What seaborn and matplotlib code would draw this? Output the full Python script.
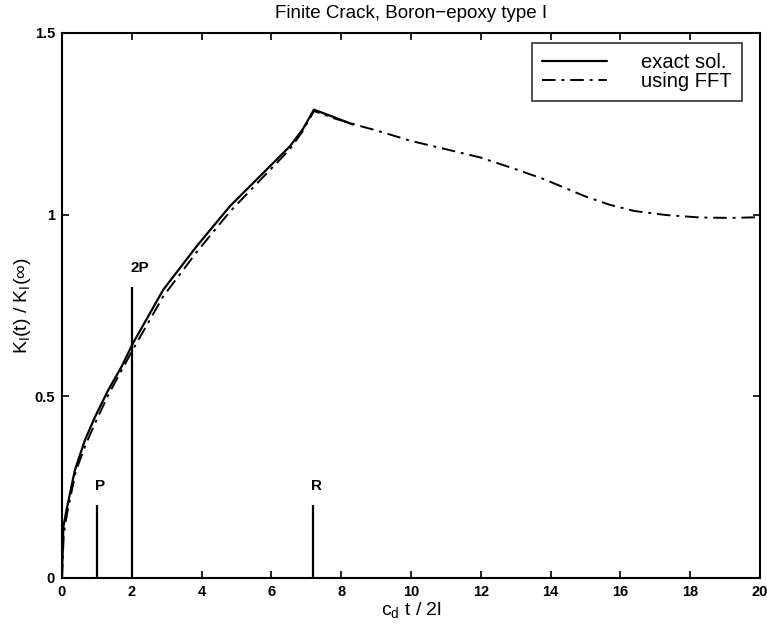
import matplotlib
matplotlib.use("Agg")
import matplotlib.pyplot as plt
import pandas as pd
import seaborn as sns

# exact solution
x_exact = [0, 0.04, 0.13, 0.37, 0.66, 0.95, 1.33, 1.71, 2.04, 2.9, 3.86,
           4.81, 5.77, 6.53, 6.9, 7.22, 7.8, 8.34]
y_exact = [0, 0.141, 0.187, 0.297, 0.380, 0.444, 0.518, 0.582, 0.647, 0.793,
           0.913, 1.023, 1.115, 1.188, 1.235, 1.289, 1.268, 1.248]

# FFT inversion
x_fft = [0, 0.05, 0.15, 0.4, 0.7, 1.0, 1.35, 1.7, 2.04, 2.9, 3.86, 4.81,
         5.77, 6.53, 6.9, 7.22, 7.8, 8.5, 9.0, 10.0, 11.0, 12.0, 13.0, 13.8,
         14.5, 15.0, 15.7, 16.4, 17.3, 18.3, 19.2, 20.0]
y_fft = [0, 0.12, 0.18, 0.295, 0.372, 0.437, 0.508, 0.570, 0.630, 0.775,
         0.897, 1.008, 1.104, 1.180, 1.230, 1.285, 1.265, 1.245, 1.232, 1.203,
         1.18, 1.157, 1.125, 1.098, 1.07, 1.050, 1.027, 1.010, 0.999, 0.992,
         0.991, 0.993]

# wave arrival markers
marker_x = [1, 2, 7.2]
marker_h = [0.2, 0.8, 0.2]
marker_labels = ["P", "2P", "R"]

sns.set_style("ticks")
plt.rcParams["font.family"] = ["Liberation Sans", "DejaVu Sans"]
plt.rcParams["mathtext.fontset"] = "custom"
plt.rcParams["mathtext.rm"] = "Liberation Sans"
plt.rcParams["mathtext.it"] = "Liberation Sans"
plt.rcParams["mathtext.bf"] = "Liberation Sans:bold"
for key in ["text.color", "axes.labelcolor", "xtick.color", "ytick.color"]:
    plt.rcParams[key] = "black"

fig = plt.figure(figsize=(7.67, 6.29), dpi=100)
ax = fig.add_axes([0.0808, 0.0811, 0.910, 0.8665])

df_exact = pd.DataFrame({"x": x_exact, "y": y_exact})
df_fft = pd.DataFrame({"x": x_fft, "y": y_fft})

sns.lineplot(data=df_exact, x="x", y="y", ax=ax, color="black", lw=1.6,
             label="exact sol.", sort=False)
sns.lineplot(data=df_fft, x="x", y="y", ax=ax, color="black", lw=1.4,
             label="using FFT", sort=False)
ax.lines[1].set_dashes([7, 3, 1.5, 3])

ax.vlines(marker_x, 0, marker_h, color="black", lw=1.6)
for mx, mh, lab in zip(marker_x, marker_h, marker_labels):
    ax.text(mx - 0.05, mh + 0.035, lab, ha="left", va="bottom",
            fontsize=11, fontweight="bold")

ax.set_xlim(0, 20)
ax.set_ylim(0, 1.5)
ax.set_xticks(range(0, 21, 2))
ax.set_yticks([0, 0.5, 1, 1.5])
ax.set_yticklabels(["0", "0.5", "1", "1.5"])
ax.tick_params(direction="in", length=5, width=1.2, top=True, right=True,
               labelsize=10.5, pad=5)
for lab in ax.get_xticklabels() + ax.get_yticklabels():
    lab.set_fontweight("bold")
for sp in ax.spines.values():
    sp.set_linewidth(1.5)
    sp.set_color("black")

ax.set_title("Finite Crack, Boron\u2212epoxy type I", fontsize=13.5, pad=11)
ax.set_xlabel("$c_d$ t / 2l", fontsize=14, labelpad=0.5)
ax.set_ylabel("$K_I$(t) / $K_I$(\u221e)", fontsize=14, labelpad=1)

leg = ax.legend(loc="upper right", bbox_to_anchor=(0.974, 0.982),
                fontsize=14.5, handlelength=3.2, handletextpad=1.7,
                borderpad=0.5, labelspacing=0.0, fancybox=False,
                frameon=True, borderaxespad=0)
leg.get_frame().set_edgecolor("black")
leg.get_frame().set_linewidth(1.2)
leg.legend_handles[1].set_dashes([7, 3, 1.5, 3])

fig.savefig("out.png", dpi=100)
